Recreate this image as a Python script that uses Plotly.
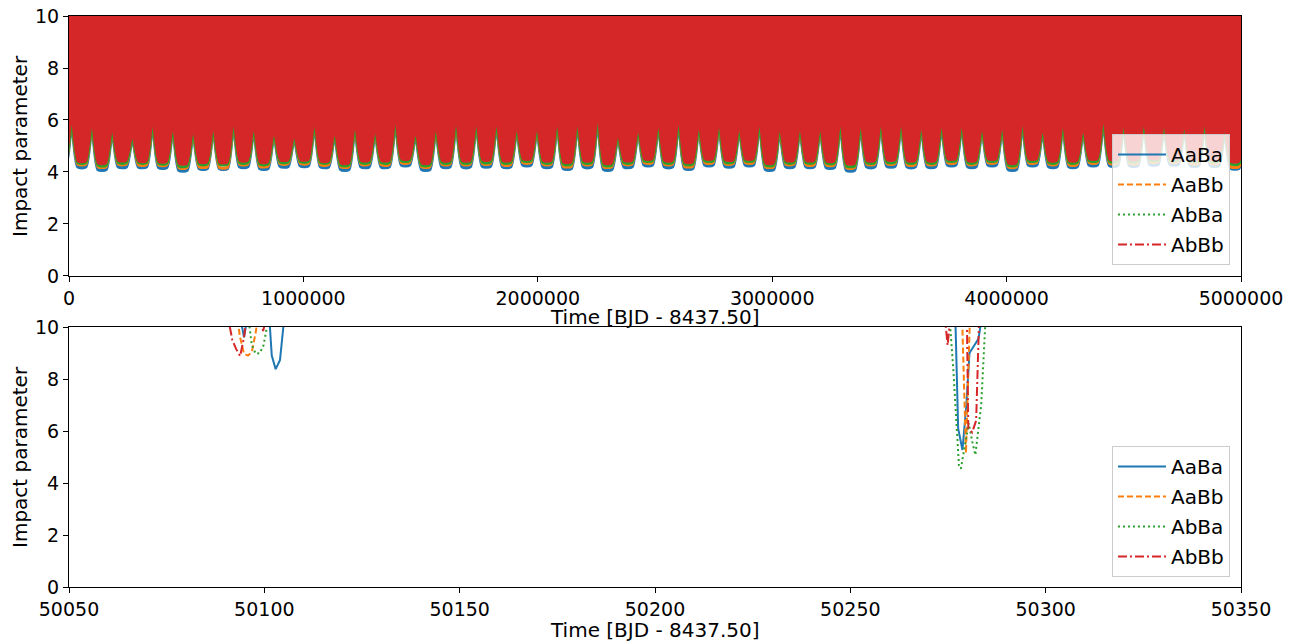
import plotly.graph_objects as go

# ---------------- data: top panel (envelope of dense oscillation) ----------------
peak_times = [-74800, 11500, 97800, 184100, 270400, 356700, 443000, 529300, 615600, 701900,
              788200, 874500, 960800, 1047100, 1133400, 1219700, 1306000, 1392300, 1478600,
              1564900, 1651200, 1737500, 1823800, 1910100, 1996400, 2082700, 2169000, 2255300,
              2341600, 2427900, 2514200, 2600500, 2686800, 2773100, 2859400, 2945700, 3032000,
              3118300, 3204600, 3290900, 3377200, 3463500, 3549800, 3636100, 3722400, 3808700,
              3895000, 3981300, 4067600, 4153900, 4240200, 4326500, 4412800, 4499100, 4585400,
              4671700, 4758000, 4844300, 4930600, 5016900]
peak_vals = [5.8,
             5.93, 5.81, 5.62, 5.36, 5.85, 5.68, 5.55, 5.68, 5.87, 5.68, 5.49, 5.36, 5.85, 5.49,
             5.74, 5.55, 5.93, 5.49, 5.68, 5.9, 5.87, 5.87, 5.68, 5.68, 5.87, 5.87, 6.03, 5.4,
             5.62, 5.81, 5.93, 5.74, 5.81, 5.68, 5.87, 5.68, 5.68, 5.68, 5.87, 5.81, 5.87, 5.87,
             5.74, 5.81, 5.81, 5.68, 5.74, 5.9, 5.62, 5.81, 5.62, 5.98, 5.81, 5.87, 5.81, 5.74,
             5.87, 5.62, 5.7]
trough_AaBa = [4.25,
               4.2, 4.1, 4.2, 4.2, 4.18, 4.07, 4.14, 4.14, 4.2, 4.14, 4.22, 4.24, 4.2, 4.1, 4.2, 4.2, 4.27, 4.1, 4.2,
               4.2, 4.22, 4.2, 4.27, 4.2, 4.14, 4.2, 4.1, 4.2, 4.27, 4.2, 4.14, 4.27, 4.22, 4.27, 4.1, 4.2, 4.2, 4.18,
               4.07, 4.2, 4.22, 4.2, 4.2, 4.27, 4.2, 4.27, 4.1, 4.27, 4.2, 4.2, 4.27, 4.25, 4.25, 4.3, 4.3, 4.25, 4.25, 4.15]
trough_AaBb = [4.35,
               4.3, 4.2, 4.3, 4.28, 4.27, 4.17, 4.2, 4.18, 4.3, 4.22, 4.32, 4.33, 4.28, 4.2, 4.3, 4.28, 4.36, 4.2, 4.3,
               4.3, 4.32, 4.28, 4.36, 4.3, 4.22, 4.3, 4.2, 4.3, 4.36, 4.3, 4.22, 4.36, 4.32, 4.36, 4.2, 4.3, 4.28, 4.27,
               4.17, 4.3, 4.32, 4.28, 4.3, 4.36, 4.3, 4.36, 4.2, 4.36, 4.3, 4.28, 4.36, 4.34, 4.34, 4.4, 4.4, 4.34, 4.34, 4.2]
trough_AbBa = [4.4,
               4.36, 4.26, 4.36, 4.36, 4.33, 4.23, 4.3, 4.3, 4.36, 4.3, 4.38, 4.4, 4.36, 4.26, 4.36, 4.36, 4.43, 4.26, 4.36,
               4.36, 4.38, 4.36, 4.43, 4.36, 4.3, 4.36, 4.26, 4.36, 4.43, 4.36, 4.3, 4.43, 4.38, 4.43, 4.26, 4.36, 4.36, 4.34,
               4.23, 4.36, 4.38, 4.36, 4.36, 4.43, 4.36, 4.43, 4.26, 4.43, 4.36, 4.36, 4.43, 4.41, 4.41, 4.46, 4.46, 4.41, 4.41, 4.31]
trough_AbBb = [4.45,
               4.4, 4.32, 4.42, 4.4, 4.38, 4.3, 4.36, 4.35, 4.42, 4.36, 4.44, 4.45, 4.4, 4.32, 4.42, 4.42, 4.48, 4.32, 4.42,
               4.42, 4.44, 4.42, 4.48, 4.42, 4.36, 4.42, 4.32, 4.42, 4.48, 4.42, 4.36, 4.48, 4.44, 4.48, 4.32, 4.42, 4.42, 4.4,
               4.3, 4.42, 4.44, 4.42, 4.42, 4.48, 4.42, 4.48, 4.32, 4.48, 4.42, 4.42, 4.48, 4.46, 4.46, 4.5, 4.5, 4.46, 4.46, 4.38]

# ---------------- data: bottom panel (zoom on two transit windows) ----------------
t_AaBa = [50050, 50093.8, 50094.8, 50095.8, 50101.0, 50101.9, 50102.9, 50104.0, 50105.2, 50200,
          50276.6, 50277.6, 50278.7, 50279.7, 50280.5, 50282.0, 50282.8, 50283.6, 50350]
b_AaBa = [30, 10.4, 9.6, 10.5, 11.0, 8.9, 8.38, 8.72, 10.5, 30,
          12.0, 6.1, 5.27, 7.0, 9.0, 9.35, 9.55, 10.3, 30]
t_AaBb = [50050, 50092.8, 50093.8, 50094.8, 50095.8, 50096.8, 50097.8, 50098.8, 50200,
          50278.3, 50279.6, 50280.7, 50350]
b_AaBb = [30, 10.6, 9.6, 8.97, 8.9, 9.04, 9.8, 10.8, 30,
          12.0, 5.15, 10.8, 30]
t_AbBa = [50050, 50095.8, 50096.8, 50097.8, 50098.8, 50099.8, 50100.8, 50101.8, 50200,
          50275.0, 50276.4, 50277.2, 50277.8, 50278.3, 50279.3, 50280.3, 50281.2, 50282.0,
          50283.5, 50284.0, 50284.4, 50285.0, 50350]
b_AbBa = [30, 10.5, 9.3, 8.97, 8.99, 9.3, 10.1, 11.0, 30,
          11.2, 8.27, 5.96, 4.68, 4.55, 5.4, 6.3, 5.6, 5.08,
          7.0, 8.9, 10.2, 11.5, 30]
t_AbBb = [50050, 50090.8, 50091.8, 50092.8, 50093.8, 50094.8, 50095.6, 50099.0, 50099.7, 50100.4, 50200,
          50274.2, 50274.9, 50275.6, 50279.0, 50280.2, 50281.2, 50282.2, 50283.0, 50350]
b_AbBb = [30, 10.3, 9.5, 9.15, 8.88, 9.6, 10.6, 10.3, 9.85, 10.3, 30,
          10.4, 9.3, 10.4, 20, 6.1, 5.95, 6.4, 10.5, 30]

names = ["AaBa", "AaBb", "AbBa", "AbBb"]
colors = ["#1f77b4", "#ff7f0e", "#2ca02c", "#d62728"]
dashes = ["solid", "6px,3px", "2px,3px", "9px,3px,2px,3px"]

FONT = "DejaVu Sans"
X_TITLE = "Time [BJD - 8437.50]"
Y_TITLE = "Impact parameter"


def envelope(troughs):
    xs, ys = [], []
    for i in range(len(peak_times) - 1):
        p0, p1 = peak_times[i], peak_times[i + 1]
        xs += [p0, p0 + 0.3 * (p1 - p0), p0 + 0.7 * (p1 - p0)]
        ys += [peak_vals[i], troughs[i], troughs[i]]
    xs.append(peak_times[-1])
    ys.append(peak_vals[-1])
    return xs, ys


fig = go.Figure()

# top panel: visible lower edges of the dense curves
top_troughs = [trough_AaBa, trough_AaBb, trough_AbBa]
widths = [3.5, 3, 3]
for tr, c, w in zip(top_troughs, colors[:3], widths):
    ex, ey = envelope(tr)
    fig.add_trace(go.Scatter(x=ex, y=ey, mode="lines",
                             line=dict(color=c, width=w, shape="spline", smoothing=0.6),
                             showlegend=False, hoverinfo="skip", xaxis="x", yaxis="y"))
# red curve fills everything above its lower envelope
rx, ry = envelope(trough_AbBb)
fig.add_trace(go.Scatter(x=rx + [rx[-1], rx[0]], y=ry + [12, 12], mode="lines",
                         fill="toself", fillcolor=colors[3],
                         line=dict(width=0, color=colors[3], shape="spline", smoothing=0.6),
                         showlegend=False, hoverinfo="skip", xaxis="x", yaxis="y"))
fig.add_trace(go.Scatter(x=rx, y=ry, mode="lines",
                         line=dict(color=colors[3], width=1.5, shape="spline", smoothing=0.6),
                         showlegend=False, hoverinfo="skip", xaxis="x", yaxis="y"))
# legend entries (top)
for n, c, d in zip(names, colors, dashes):
    fig.add_trace(go.Scatter(x=[None], y=[None], mode="lines", name=n,
                             line=dict(color=c, width=2, dash=d), legend="legend",
                             legendgroup="t" + n, xaxis="x", yaxis="y"))

# bottom panel
bottom = [(t_AaBa, b_AaBa), (t_AaBb, b_AaBb), (t_AbBa, b_AbBa), (t_AbBb, b_AbBb)]
for (tt, bb), n, c, d in zip(bottom, names, colors, dashes):
    fig.add_trace(go.Scatter(x=tt, y=bb, mode="lines", name=n,
                             line=dict(color=c, width=2, dash=d), legend="legend2",
                             legendgroup="b" + n, xaxis="x2", yaxis="y2"))

axis_common = dict(showline=True, linecolor="black", linewidth=1, mirror=True,
                   ticks="outside", ticklen=5, tickwidth=1, tickcolor="black",
                   showgrid=False, zeroline=False, automargin=False,
                   tickfont=dict(family=FONT, size=19, color="black"))
title_font = dict(family=FONT, size=20, color="black")

legend_common = dict(bgcolor="rgba(255,255,255,0.8)", bordercolor="#cccccc", borderwidth=1,
                     font=dict(family=FONT, size=20, color="black"),
                     xanchor="right", yanchor="bottom", tracegroupgap=1, traceorder="grouped",
                     itemwidth=48)

# axis titles as text annotations (paper coords from the plot area)
annotations = [
    dict(text=X_TITLE, x=0.5, y=0.4729, xref="paper", yref="paper", xanchor="center",
         yanchor="middle", showarrow=False, font=title_font),
    dict(text=X_TITLE, x=0.5, y=-0.0758, xref="paper", yref="paper", xanchor="center",
         yanchor="middle", showarrow=False, font=title_font),
    dict(text=Y_TITLE, x=-0.0418, y=0.7724, xref="paper", yref="paper", xanchor="center",
         yanchor="middle", textangle=-90, showarrow=False, font=title_font),
    dict(text=Y_TITLE, x=-0.0418, y=0.2277, xref="paper", yref="paper", xanchor="center",
         yanchor="middle", textangle=-90, showarrow=False, font=title_font),
]

fig.update_layout(
    width=1300, height=644,
    margin=dict(l=69, r=59, t=16, b=57, autoexpand=False),
    paper_bgcolor="white", plot_bgcolor="white",
    font=dict(family=FONT, color="black"),
    xaxis=dict(domain=[0, 1], anchor="y", range=[0, 5000000],
               tickvals=[0, 1000000, 2000000, 3000000, 4000000, 5000000], tickformat="d",
               **axis_common),
    yaxis=dict(domain=[0.5447, 1], anchor="x", range=[0, 10], dtick=2, **axis_common),
    xaxis2=dict(domain=[0, 1], anchor="y2", range=[50050, 50350], dtick=50, tickformat="d",
                **axis_common),
    yaxis2=dict(domain=[0, 0.4553], anchor="x2", range=[0, 10], dtick=2, **axis_common),
    legend=dict(x=0.9906, y=0.5639, **legend_common),
    legend2=dict(x=0.9906, y=0.0175, **legend_common),
    annotations=annotations,
)

fig.write_html("out.html")
